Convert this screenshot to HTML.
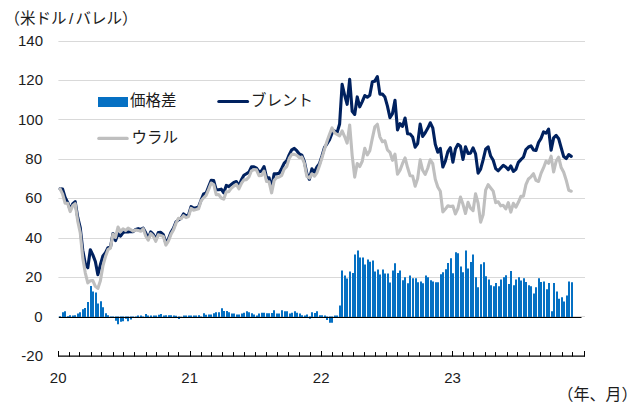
<!DOCTYPE html>
<html><head><meta charset="utf-8"><title>chart</title>
<style>html,body{margin:0;padding:0;background:#fff;font-family:"Liberation Sans",sans-serif}svg{display:block}</style>
</head><body><svg width="640" height="412" viewBox="0 0 640 412" role="img" aria-label="ブレントとウラルの原油価格および価格差の推移(米ドル/バレル)"><title>ブレント・ウラル原油価格と価格差 (米ドル/バレル)</title><desc>縦軸: -20〜140 米ドル/バレル。横軸: 20, 21, 22, 23 (年、月)。凡例: 価格差, ブレント, ウラル。</desc><rect width="640" height="412" fill="#fff"/><path d="M58.4 41.5H585M58.4 80.5H585M58.4 119.5H585M58.4 159.5H585M58.4 198.5H585M58.4 238.5H585M58.4 277.5H585M58.4 316.5H585" stroke="#d9d9d9" stroke-width="1" fill="none"/><path d="M59 317V316.2h2V317zM62 317V312.3h2V317zM64 317V311.3h2V317zM67 317V316.2h2V317zM69 317V315.2h2V317zM72 317V315.4h2V317zM74 317V315.2h2V317zM77 317V313.5h2V317zM79 317V312.3h2V317zM82 317V309.3h2V317zM84 317V308.1h2V317zM87 317V302.0h2V317zM90 317V286.1h2V317zM92 317V291.4h2V317zM95 317V292.4h2V317zM97 317V303.4h2V317zM100 317V301.2h2V317zM102 317V307.2h2V317zM105 317V313.3h2V317zM107 317V315.2h2V317zM110 317V316.4h2V317zM112 317V316.6h2V317zM115 316.55V320.7h2V316.55zM117 316.55V324.2h2V316.55zM120 316.55V321.8h2V316.55zM122 316.55V321.2h2V316.55zM125 316.55V318.7h2V316.55zM127 316.55V321.2h2V316.55zM130 316.55V319.5h2V316.55zM132 316.55V317.9h2V316.55zM135 317V316.6h2V317zM137 317V315.4h2V317zM140 317V315.4h2V317zM142 317V316.6h2V317zM145 317V314.0h2V317zM147 317V315.4h2V317zM150 317V315.4h2V317zM153 317V315.4h2V317zM155 317V315.4h2V317zM158 317V314.8h2V317zM160 317V314.0h2V317zM163 317V315.4h2V317zM165 317V315.2h2V317zM168 317V315.2h2V317zM170 317V315.2h2V317zM173 317V315.4h2V317zM175 317V315.8h2V317zM178 316.55V319.1h2V316.55zM180 317V316.8h2V317zM183 317V315.4h2V317zM185 317V315.4h2V317zM188 317V315.4h2V317zM190 317V315.4h2V317zM193 317V315.4h2V317zM195 317V315.4h2V317zM198 317V315.2h2V317zM200 317V316.4h2V317zM203 317V313.3h2V317zM205 317V314.8h2V317zM208 317V314.4h2V317zM210 317V314.4h2V317zM213 317V313.3h2V317zM215 317V312.3h2V317zM218 317V312.3h2V317zM221 317V308.3h2V317zM223 317V310.9h2V317zM226 317V310.9h2V317zM228 317V312.3h2V317zM231 317V313.5h2V317zM233 317V313.5h2V317zM236 317V314.4h2V317zM238 317V314.4h2V317zM241 317V313.5h2V317zM243 317V312.7h2V317zM246 317V311.3h2V317zM248 317V312.3h2V317zM251 317V313.3h2V317zM253 317V314.4h2V317zM256 317V315.4h2V317zM258 317V313.5h2V317zM261 317V312.7h2V317zM263 317V312.7h2V317zM266 317V313.3h2V317zM268 317V313.3h2V317zM271 317V312.9h2V317zM273 317V310.3h2V317zM276 317V313.5h2V317zM278 317V313.5h2V317zM281 317V310.3h2V317zM284 317V311.3h2V317zM286 317V311.3h2V317zM289 317V313.5h2V317zM291 317V312.7h2V317zM294 317V311.3h2V317zM296 317V312.7h2V317zM299 317V313.5h2V317zM301 317V315.2h2V317zM304 317V315.4h2V317zM306 317V314.4h2V317zM309 316.55V318.7h2V316.55zM311 317V312.3h2V317zM314 317V313.1h2V317zM316 317V311.3h2V317zM319 317V315.2h2V317zM321 317V315.2h2V317zM324 317V315.4h2V317zM326 316.55V320.1h2V316.55zM329 316.55V322.8h2V316.55zM331 316.55V322.8h2V316.55zM334 317V315.4h2V317zM336 317V315.4h2V317zM339 317V305.4h2V317zM341 317V270.5h2V317zM344 317V275.6h2V317zM346 317V278.4h2V317zM349 317V271.5h2V317zM352 317V272.9h2V317zM354 317V254.6h2V317zM357 317V250.6h2V317zM359 317V257.5h2V317zM362 317V257.5h2V317zM364 317V264.4h2V317zM367 317V259.5h2V317zM369 317V261.7h2V317zM372 317V260.5h2V317zM374 317V271.5h2V317zM377 317V269.5h2V317zM379 317V274.5h2V317zM382 317V269.5h2V317zM384 317V273.5h2V317zM387 317V273.5h2V317zM389 317V282.5h2V317zM392 317V270.5h2V317zM394 317V263.2h2V317zM397 317V272.9h2V317zM399 317V270.5h2V317zM402 317V280.2h2V317zM404 317V277.2h2V317zM407 317V283.3h2V317zM409 317V275.4h2V317zM412 317V278.2h2V317zM415 317V278.2h2V317zM417 317V282.3h2V317zM420 317V281.4h2V317zM422 317V283.3h2V317zM425 317V275.4h2V317zM427 317V277.2h2V317zM430 317V280.2h2V317zM432 317V281.4h2V317zM435 317V282.3h2V317zM437 317V282.3h2V317zM440 317V274.3h2V317zM442 317V272.3h2V317zM445 317V269.3h2V317zM447 317V263.0h2V317zM450 317V258.3h2V317zM452 317V273.3h2V317zM455 317V252.2h2V317zM457 317V253.2h2V317zM460 317V266.4h2V317zM462 317V272.3h2V317zM465 317V250.4h2V317zM467 317V268.4h2V317zM470 317V262.1h2V317zM472 317V254.4h2V317zM475 317V277.2h2V317zM477 317V287.3h2V317zM480 317V264.2h2V317zM483 317V262.2h2V317zM485 317V276.2h2V317zM488 317V279.4h2V317zM490 317V285.3h2V317zM493 317V286.3h2V317zM495 317V283.1h2V317zM498 317V286.3h2V317zM500 317V279.4h2V317zM503 317V277.2h2V317zM505 317V275.2h2V317zM508 317V284.1h2V317zM510 317V271.1h2V317zM513 317V285.3h2V317zM515 317V279.4h2V317zM518 317V277.2h2V317zM520 317V280.4h2V317zM523 317V278.2h2V317zM525 317V282.1h2V317zM528 317V285.3h2V317zM530 317V286.3h2V317zM533 317V293.4h2V317zM535 317V287.3h2V317zM538 317V278.2h2V317zM540 317V282.1h2V317zM543 317V281.4h2V317zM546 317V289.2h2V317zM548 317V283.1h2V317zM551 317V311.3h2V317zM553 317V283.1h2V317zM556 317V291.4h2V317zM558 317V298.7h2V317zM561 317V297.3h2V317zM563 317V301.4h2V317zM566 317V295.5h2V317zM568 317V281.6h2V317zM571 317V282.3h2V317z" fill="#0570c3"/><path d="M58.8 317.5H581.5" stroke="#000" stroke-width="1" fill="none"/><path d="M60.10 188.87L62.62 189.16L65.14 197.35L67.65 202.33L70.17 209.60L72.69 203.99L75.21 201.66L77.73 217.38L80.24 227.71L82.76 250.20L85.28 263.73L87.80 267.76L90.32 249.69L92.83 254.87L95.35 261.56L97.87 274.63L100.39 264.79L102.91 255.87L105.42 252.86L107.94 247.68L110.46 247.29L112.98 233.56L115.50 240.59L118.01 233.78L120.53 236.08L123.05 232.58L125.57 231.71L128.09 231.91L130.60 231.51L133.12 231.59L135.64 229.43L138.16 228.64L140.68 229.52L143.19 228.15L145.71 232.85L148.23 238.42L150.75 231.89L153.27 234.31L155.78 239.53L158.30 232.48L160.82 232.32L163.34 234.60L165.86 243.09L168.37 239.17L170.89 232.62L173.41 228.32L175.93 221.98L178.45 219.88L180.96 218.46L183.48 213.95L186.00 215.86L188.52 214.86L191.04 206.61L193.55 208.36L196.07 207.75L198.59 206.82L201.11 200.01L203.63 193.93L206.14 192.98L208.66 186.64L211.18 180.28L213.70 180.56L216.22 189.79L218.73 189.71L221.25 189.14L223.77 192.90L226.29 185.38L228.81 186.68L231.32 184.43L233.84 182.41L236.36 181.56L238.88 186.03L241.40 179.75L243.91 175.30L246.43 173.72L248.95 172.11L251.47 166.85L253.99 166.87L256.50 168.09L259.02 171.95L261.54 170.95L264.06 166.56L266.58 177.64L269.09 177.86L271.61 188.51L274.13 173.70L276.65 173.88L279.17 173.27L281.68 168.51L284.20 163.09L286.72 160.75L289.24 154.62L291.76 149.76L294.27 148.44L296.79 150.71L299.31 153.93L301.83 155.06L304.35 161.52L306.86 173.66L309.38 179.26L311.90 168.88L314.42 172.09L316.94 166.93L319.45 163.70L321.97 155.88L324.49 147.40L327.01 143.79L329.53 139.58L332.04 133.20L334.56 130.90L337.08 132.67L339.60 124.03L342.12 84.29L344.63 95.00L347.15 104.34L349.67 79.29L352.19 111.31L354.71 114.48L357.22 96.91L359.74 106.86L362.26 101.56L364.78 95.55L367.30 97.21L369.81 95.24L372.33 81.69L374.85 81.12L377.37 76.61L379.89 94.12L382.40 94.12L384.92 97.05L387.44 106.13L389.96 117.67L392.48 113.65L394.99 100.24L397.51 129.95L400.03 123.59L402.55 126.41L405.07 118.00L407.58 133.69L410.10 134.05L412.62 136.98L415.14 147.22L417.66 143.66L420.17 124.05L422.69 136.43L425.21 132.75L427.73 128.28L430.25 122.77L432.76 127.85L435.28 144.33L437.80 152.18L440.32 148.36L442.84 167.01L445.35 161.22L447.87 151.61L450.39 147.69L452.91 162.15L455.43 148.93L457.94 144.31L460.46 146.22L462.98 159.45L465.50 146.75L468.02 153.42L470.53 153.11L473.05 147.85L475.57 153.86L478.09 173.17L480.61 169.19L483.12 159.78L485.64 149.25L488.16 146.91L490.68 156.06L493.20 160.24L495.71 168.58L498.23 170.81L500.75 168.03L503.27 165.34L505.79 166.95L508.30 169.59L510.82 166.00L513.34 171.44L515.86 169.37L518.38 162.34L520.89 159.59L523.41 157.22L525.93 149.50L528.45 147.04L530.97 145.92L533.48 149.88L536.00 150.51L538.52 142.50L541.04 138.36L543.56 131.90L546.07 133.20L548.59 129.18L551.11 150.31L553.63 137.89L556.15 135.39L558.66 138.69L561.18 147.71L563.70 156.57L566.22 158.54L568.74 154.60L571.25 156.38" stroke="#00215f" stroke-width="3.1" fill="none" stroke-linejoin="round" stroke-linecap="round"/><path d="M60.10 188.87L62.62 194.08L65.14 203.26L67.65 203.32L70.17 211.57L72.69 205.76L75.21 203.63L77.73 221.12L80.24 232.64L82.76 258.08L85.28 272.78L87.80 282.92L90.32 280.80L92.83 280.66L95.35 286.37L97.87 288.42L100.39 280.74L102.91 265.91L105.42 256.80L107.94 249.65L110.46 248.07L112.98 234.15L115.50 237.44L118.01 227.08L120.53 231.75L123.05 228.84L125.57 230.53L128.09 228.17L130.60 229.54L133.12 231.20L135.64 230.02L138.16 230.41L140.68 231.30L143.19 228.74L145.71 236.00L148.23 240.20L150.75 233.66L153.27 236.08L155.78 241.30L158.30 234.84L160.82 235.47L163.34 236.38L165.86 245.06L168.37 241.14L170.89 234.59L173.41 230.10L175.93 223.36L178.45 218.30L180.96 218.85L183.48 215.72L186.00 217.63L188.52 216.63L191.04 208.38L193.55 210.13L196.07 209.52L198.59 208.79L201.11 200.80L203.63 197.86L206.14 195.34L208.66 189.40L211.18 183.04L213.70 184.49L216.22 194.71L218.73 194.63L221.25 198.00L223.77 199.20L226.29 191.68L228.81 191.60L231.32 188.18L233.84 186.15L236.36 184.32L238.88 188.79L241.40 183.49L243.91 179.83L246.43 179.63L248.95 177.03L251.47 170.79L253.99 169.63L256.50 169.86L259.02 175.69L261.54 175.48L264.06 171.08L266.58 181.58L269.09 181.80L271.61 192.84L274.13 180.60L276.65 177.62L279.17 177.01L281.68 175.40L284.20 169.00L286.72 166.65L289.24 158.37L291.76 154.29L294.27 154.35L296.79 155.23L299.31 157.68L301.83 157.03L304.35 163.29L306.86 176.42L309.38 178.07L311.90 173.80L314.42 176.22L316.94 172.84L319.45 165.67L321.97 157.85L324.49 149.17L327.01 141.23L329.53 134.26L332.04 127.89L334.56 132.67L337.08 134.44L339.60 135.84L342.12 130.96L344.63 136.55L347.15 143.13L349.67 124.97L352.19 155.61L354.71 177.09L357.22 163.46L359.74 166.52L362.26 161.22L364.78 148.32L367.30 154.90L369.81 150.76L372.33 138.40L374.85 126.80L377.37 124.26L379.89 136.84L382.40 141.77L384.92 140.76L387.44 149.84L389.96 152.32L392.48 160.31L394.99 154.19L397.51 174.26L400.03 170.26L402.55 163.43L405.07 157.97L407.58 167.56L410.10 175.79L412.62 175.97L415.14 186.21L417.66 178.51L420.17 159.88L422.69 170.30L425.21 174.49L427.73 168.25L430.25 159.78L432.76 163.68L435.28 179.18L437.80 187.03L440.32 191.29L442.84 211.90L445.35 209.07L447.87 205.76L450.39 206.57L452.91 206.05L455.43 213.91L457.94 208.30L460.46 197.02L462.98 204.34L465.50 213.50L468.02 202.25L470.53 208.24L473.05 210.66L475.57 193.83L478.09 203.10L480.61 222.16L483.12 214.72L485.64 190.20L488.16 184.71L490.68 187.96L493.20 191.15L495.71 202.65L498.23 201.72L500.75 205.84L503.27 205.31L505.79 208.89L508.30 202.67L510.82 212.08L513.34 203.34L515.86 207.18L518.38 202.31L520.89 196.41L523.41 196.21L525.93 184.55L528.45 178.94L530.97 176.83L533.48 173.70L536.00 180.44L538.52 181.48L541.04 173.41L543.56 167.74L546.07 161.16L548.59 163.25L551.11 156.22L553.63 171.95L556.15 161.18L558.66 157.20L561.18 167.60L563.70 172.33L566.22 180.20L568.74 190.24L571.25 191.23" stroke="#bfbfbf" stroke-width="3.1" fill="none" stroke-linejoin="round" stroke-linecap="round"/><path d="M58 356.15H585" stroke="#000" stroke-width="1.25" fill="none"/><path d="M58.5 351.0V356.5M69.5 352.1V356.5M79.5 352.1V356.5M91.5 352.1V356.5M101.5 352.1V356.5M113.5 352.1V356.5M123.5 352.1V356.5M134.5 352.1V356.5M146.5 352.1V356.5M156.5 352.1V356.5M168.5 352.1V356.5M178.5 352.1V356.5M190.5 351.0V356.5M201.5 352.1V356.5M211.5 352.1V356.5M222.5 352.1V356.5M233.5 352.1V356.5M244.5 352.1V356.5M255.5 352.1V356.5M266.5 352.1V356.5M277.5 352.1V356.5M288.5 352.1V356.5M299.5 352.1V356.5M310.5 352.1V356.5M321.5 351.0V356.5M332.5 352.1V356.5M342.5 352.1V356.5M353.5 352.1V356.5M364.5 352.1V356.5M375.5 352.1V356.5M386.5 352.1V356.5M397.5 352.1V356.5M408.5 352.1V356.5M419.5 352.1V356.5M430.5 352.1V356.5M441.5 352.1V356.5M452.5 351.0V356.5M463.5 352.1V356.5M473.5 352.1V356.5M485.5 352.1V356.5M495.5 352.1V356.5M507.5 352.1V356.5M517.5 352.1V356.5M529.5 352.1V356.5M540.5 352.1V356.5M550.5 352.1V356.5M562.5 352.1V356.5M572.5 352.1V356.5M584.5 351.0V356.5" stroke="#000" stroke-width="1" fill="none"/><rect x="98" y="97" width="30" height="10" fill="#0570c3"/><path d="M218.8 101.5H247.6" stroke="#00215f" stroke-width="3.1" stroke-linecap="round"/><path d="M98.8 138.4H127.2" stroke="#bfbfbf" stroke-width="3.1" stroke-linecap="round"/><g font-family="&quot;Liberation Sans&quot;, &quot;Noto Sans CJK JP&quot;, sans-serif" fill="#1c1c1c"><text x="4.5" y="24" font-size="15.5">（米ドル</text><text x="71.2" y="24" font-size="15.5" text-anchor="middle">/</text><text x="75.5" y="24" font-size="15.5">バレル）</text><text x="130" y="106" font-size="15.5">価格差</text><text x="251" y="106" font-size="15.5">ブレント</text><text x="131.5" y="143" font-size="15.5">ウラル</text><text x="557.5" y="400" font-size="16">（年、月）</text><g font-size="15" text-anchor="end"><text x="43" y="45.9">140</text><text x="43" y="85.3">120</text><text x="43" y="124.7">100</text><text x="42" y="164">80</text><text x="42" y="203.4">60</text><text x="42" y="242.8">40</text><text x="42" y="282.2">20</text><text x="42.5" y="321.6">0</text><text x="43" y="360.9">-20</text></g><g font-size="15" text-anchor="middle"><text x="58.2" y="382.6">20</text><text x="189.7" y="382.6">21</text><text x="321.2" y="382.6">22</text><text x="452.5" y="382.6">23</text></g></g></svg></body></html>
